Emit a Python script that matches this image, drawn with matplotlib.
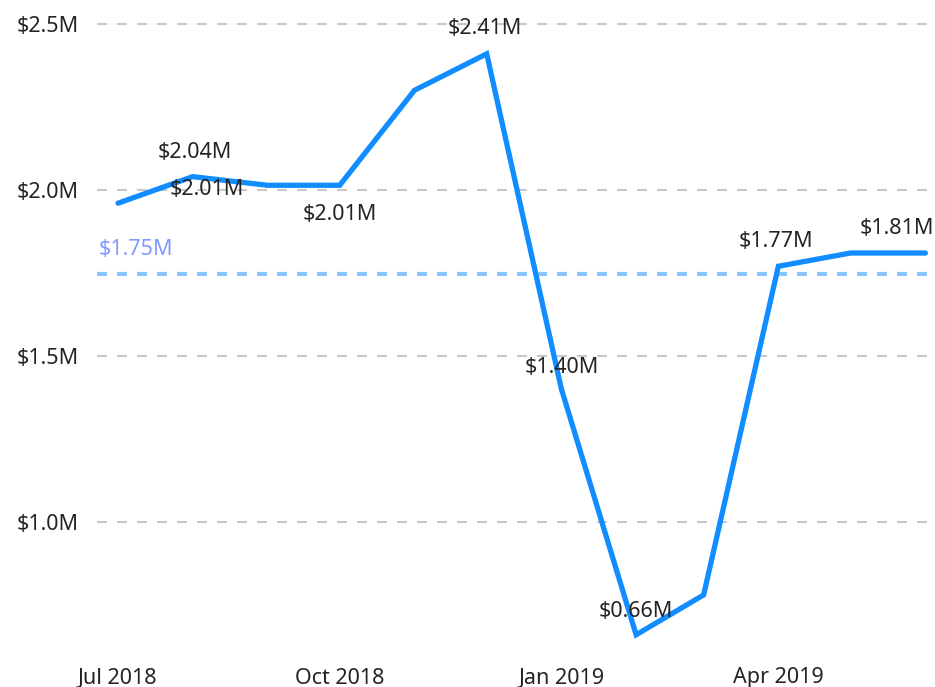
import datetime as dt
import matplotlib
matplotlib.use("Agg")
import matplotlib.pyplot as plt
from matplotlib.ticker import FuncFormatter

months = ["2018-07", "2018-08", "2018-09", "2018-10", "2018-11", "2018-12",
          "2019-01", "2019-02", "2019-03", "2019-04", "2019-05", "2019-06"]
sales_m = [1.96, 2.04, 2.014, 2.014, 2.30, 2.41, 1.40, 0.66, 0.78, 1.77, 1.81, 1.81]
# which points get a data label, and where it sits (pixels from the point)
label_offsets = {1: (2, 24), 2: (-61, -4), 3: (0, -29), 5: (-2, 25),
                 6: (0, 22), 7: (0, 23), 9: (-2, 25), 11: (-28, 24)}
tick_months = ["2018-07", "2018-10", "2019-01", "2019-04"]
tick_labels = ["Jul 2018", "Oct 2018", "Jan 2019", "Apr 2019"]

plt.rcParams["font.family"] = ["Noto Sans", "DejaVu Sans"]

dates = [dt.datetime.strptime(m, "%Y-%m") for m in months]
avg = sum(sales_m) / len(sales_m)

fig = plt.figure(figsize=(9.35, 6.87), dpi=100)
ax = fig.add_axes([97 / 935, 1 - 655 / 687, 838 / 935, 645 / 687])

ax.plot(dates, sales_m, color="#118DFF", lw=3.8, solid_capstyle="round",
        solid_joinstyle="miter", zorder=3)
ax.axhline(avg, color="#8CC4FF", lw=3, ls=(0, (2.4, 2.4)), zorder=2)
ax.annotate(f"${avg:.2f}M", (0, avg), xycoords=("axes fraction", "data"),
            xytext=(2, 24), textcoords="offset pixels", ha="left", va="center",
            color="#7E9CFF", fontsize=15.5)

for i, (dx, dy) in label_offsets.items():
    ax.annotate(f"${sales_m[i]:.2f}M", (dates[i], sales_m[i]), xytext=(dx, dy),
                textcoords="offset pixels", ha="center", va="center",
                color="#252423", fontsize=15.5, zorder=4)

ax.set_ylim(0.599, 2.542)
x0 = dates[0] - dt.timedelta(days=8.7)
ax.set_xlim(x0, x0 + dt.timedelta(days=347.7))
ax.set_yticks([1.0, 1.5, 2.0, 2.5])
ax.yaxis.set_major_formatter(FuncFormatter(lambda v, p: f"${v:.1f}M"))
ax.set_xticks([dt.datetime.strptime(m, "%Y-%m") for m in tick_months])
ax.set_xticklabels(tick_labels)
ax.grid(axis="y", color="#C8C8C8", lw=1.5, ls=(0, (4.8, 4.8)))
ax.set_axisbelow(True)
for s in ax.spines.values():
    s.set_visible(False)
ax.tick_params(length=0, labelsize=15.5, labelcolor="#252423")
ax.tick_params(axis="y", pad=13)
ax.tick_params(axis="x", pad=9)

fig.savefig("out.png", dpi=100)
